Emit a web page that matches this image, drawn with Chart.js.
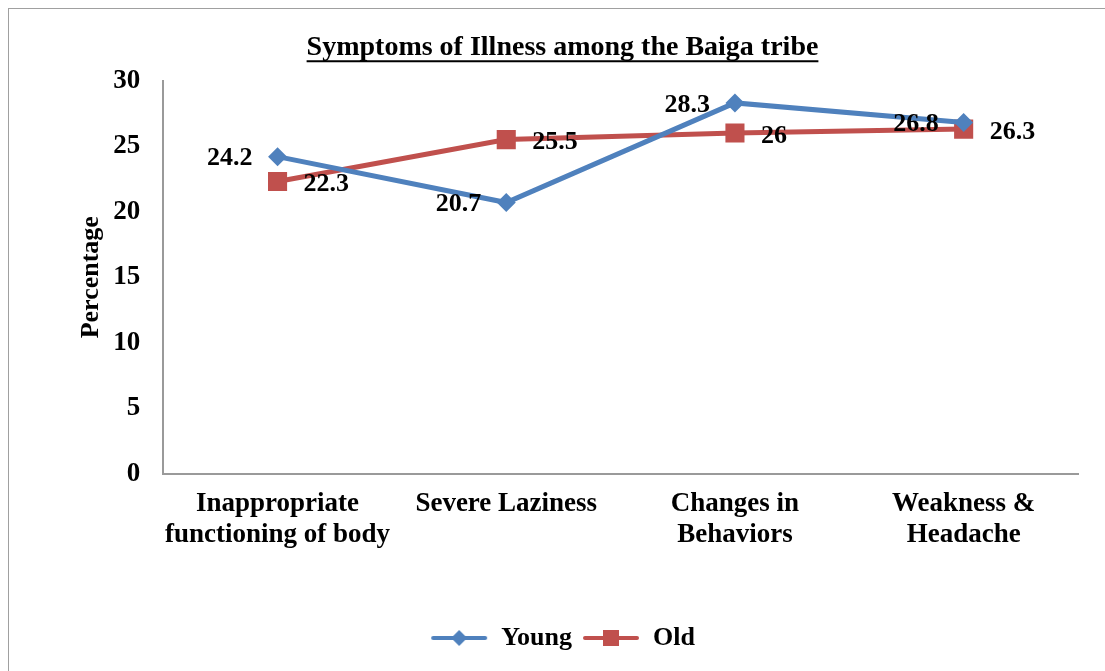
<!DOCTYPE html>
<html lang="en">
  <head>
    <meta charset="UTF-8" />
    <script src="https://cdn.jsdelivr.net/npm/chart.js"></script>
    <title>Symptoms of Illness among the Baiga tribe</title>
    <style>
      body { margin: 0; background: #fff; }
      .moldura {
        position: absolute; left: 8px; top: 8px;
        width: 1110px; height: 700px;
        border: 1px solid #a0a0a0;
      }
      #grafico { position: absolute; left: 0; top: 0; }
    </style>
  </head>
  <body>
    <div class="moldura"></div>
    <canvas id="grafico" width="1105" height="671"></canvas>

    <script>
      // dados
      var categorias = [
        ["Inappropriate", "functioning of body"],
        "Severe Laziness",
        ["Changes in", "Behaviors"],
        ["Weakness &", "Headache"],
      ];
      var young = [24.2, 20.7, 28.3, 26.8];
      var old = [22.3, 25.5, 26, 26.3];
      var ticksY = [0, 5, 10, 15, 20, 25, 30];

      var azul = "#4f81bd";
      var vermelho = "#c0504d";
      var fonte = "'Liberation Serif', 'Times New Roman', serif";

      // icone da legenda: linha + marcador
      function iconeLegenda(cor, tipo) {
        var c = document.createElement("canvas");
        c.width = 58;
        c.height = 20;
        var ctx = c.getContext("2d");
        ctx.strokeStyle = cor;
        ctx.lineWidth = 4;
        ctx.lineCap = "round";
        ctx.beginPath();
        ctx.moveTo(3, 10);
        ctx.lineTo(55, 10);
        ctx.stroke();
        ctx.fillStyle = cor;
        ctx.beginPath();
        if (tipo == "losango") {
          ctx.moveTo(29, 2);
          ctx.lineTo(37, 10);
          ctx.lineTo(29, 18);
          ctx.lineTo(21, 10);
        } else {
          ctx.rect(21, 2, 16, 16);
        }
        ctx.fill();
        return c;
      }
      var icones = [iconeLegenda(azul, "losango"), iconeLegenda(vermelho, "quadrado")];

      // rotulos de valor ao lado dos pontos
      var rotulos = {
        id: "rotulos",
        afterDatasetsDraw(chart) {
          var ctx = chart.ctx;
          ctx.save();
          ctx.font = "bold 26px " + fonte;
          ctx.fillStyle = "#000";
          ctx.textBaseline = "middle";
          chart.data.datasets.forEach(function (ds, i) {
            var meta = chart.getDatasetMeta(i);
            meta.data.forEach(function (p, j) {
              if (i == 0) {
                ctx.textAlign = "right";
                ctx.fillText(String(ds.data[j]), p.x - 25, p.y + 2);
              } else {
                ctx.textAlign = "left";
                ctx.fillText(String(ds.data[j]), p.x + 26, p.y + 3);
              }
            });
          });
          ctx.restore();
        },
      };

      // sublinhado do titulo
      var sublinhado = {
        id: "sublinhado",
        afterDraw(chart) {
          var tb = chart.titleBlock;
          var op = chart.options.plugins.title;
          var ctx = chart.ctx;
          ctx.save();
          ctx.font = "bold " + op.font.size + "px " + fonte;
          var w = ctx.measureText(op.text).width;
          var cx = (tb.left + tb.right) / 2;
          var cy = tb.top + op.padding.top + (op.font.size * 1.2) / 2;
          ctx.strokeStyle = "#000";
          ctx.lineWidth = 2;
          ctx.beginPath();
          ctx.moveTo(cx - w / 2, cy + op.font.size * 0.48);
          ctx.lineTo(cx + w / 2, cy + op.font.size * 0.48);
          ctx.stroke();
          ctx.restore();
        },
      };

      var grafico = new Chart(document.getElementById("grafico"), {
        type: "line",
        data: {
          labels: categorias,
          datasets: [
            {
              label: "Young",
              data: young,
              borderColor: azul,
              backgroundColor: azul,
              borderWidth: 5,
              pointStyle: "rectRot",
              pointRadius: 9.5,
              pointBorderWidth: 0,
              tension: 0,
            },
            {
              label: "Old",
              data: old,
              borderColor: vermelho,
              backgroundColor: vermelho,
              borderWidth: 5,
              pointStyle: "rect",
              pointRadius: 13.5,
              pointBorderWidth: 0,
              tension: 0,
            },
          ],
        },
        options: {
          responsive: false,
          animation: false,
          devicePixelRatio: 1,
          layout: { padding: { left: 47, right: 27, top: 0, bottom: 10 } },
          plugins: {
            title: {
              display: true,
              text: "Symptoms of Illness among the Baiga tribe",
              color: "#000",
              font: { family: fonte, size: 28, weight: "bold", lineHeight: 1.2 },
              padding: { top: 31, bottom: 16 },
            },
            legend: {
              position: "bottom",
              labels: {
                usePointStyle: true,
                pointStyleWidth: 58,
                color: "#000",
                font: { family: fonte, size: 26, weight: "bold" },
                padding: 10,
                generateLabels(chart) {
                  return chart.data.datasets.map(function (ds, i) {
                    return {
                      text: ds.label,
                      pointStyle: icones[i],
                      fillStyle: ds.borderColor,
                      strokeStyle: ds.borderColor,
                      lineWidth: 0,
                      datasetIndex: i,
                      fontColor: "#000",
                    };
                  });
                },
              },
            },
            tooltip: { enabled: false },
          },
          scales: {
            x: {
              offset: true,
              grid: { display: false, drawTicks: false, offset: true },
              border: { display: true, color: "#9a9a9a", width: 2 },
              ticks: {
                color: "#000",
                maxRotation: 0,
                autoSkip: false,
                padding: 15,
                font: { family: fonte, size: 27, weight: "bold", lineHeight: 1.15 },
              },
              afterFit(axis) {
                axis.height += 49;
              },
            },
            y: {
              min: 0,
              max: 30,
              afterBuildTicks(axis) {
                axis.ticks = ticksY.map(function (v) { return { value: v }; });
              },
              afterFit(axis) {
                axis.width -= 23;
              },
              grid: { display: false, drawTicks: false },
              border: { display: true, color: "#9a9a9a", width: 2 },
              ticks: {
                color: "#000",
                padding: 23,
                font: { family: fonte, size: 27, weight: "bold" },
              },
              title: {
                display: true,
                text: "Percentage",
                color: "#000",
                font: { family: fonte, size: 26, weight: "bold", lineHeight: 1.2 },
                padding: { top: 29, bottom: 6 },
              },
            },
          },
        },
        plugins: [rotulos, sublinhado],
      });
    </script>
  </body>
</html>
